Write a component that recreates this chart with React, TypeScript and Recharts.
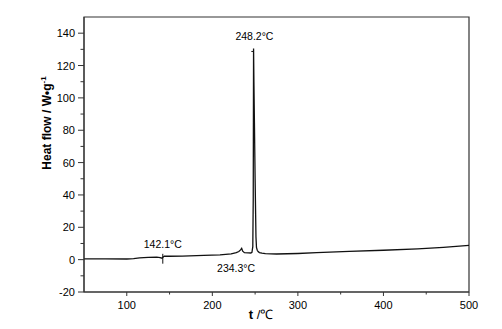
import React from 'react';
import { LineChart, Line, XAxis, YAxis, ReferenceLine, ReferenceDot, ReferenceArea } from 'recharts';

// Temperature (°C) and heat flow (W·g⁻¹)
const temperature = [
  50, 75, 100, 108, 115, 125, 135, 139, 141.2, 142.5, 144, 150, 165, 190, 209, 222, 228, 231, 233,
  234.3, 235.5, 237.5, 242, 245, 246.3, 247.3, 247.8, 248.2, 248.6, 249.2, 250.0, 250.6, 251.0,
  251.6, 252.5, 253.5, 255, 258, 262, 275, 300, 322, 360, 400, 440, 470, 500,
];
const heatFlow = [
  0.5, 0.5, 0.4, 0.6, 1.1, 1.4, 1.5, 1.3, 0.9, 1.6, 2.2, 2.1, 2.2, 2.6, 3.0, 3.6, 4.4, 5.0, 6.0,
  7.0, 5.2, 4.3, 4.2, 4.1, 4.5, 8, 37, 130.5, 110, 85, 50, 28, 14,
  7.5, 5.8, 5.0, 4.4, 4.0, 3.7, 3.5, 3.8, 4.3, 5.1, 5.8, 6.7, 7.6, 8.8,
];

const xMajorTicks = [100, 200, 300, 400, 500];
const xMinorTicks = [150, 250, 350, 450];
const yMajorTicks = [-20, 0, 20, 40, 60, 80, 100, 120, 140];
const yMinorTicks = [-10, 10, 30, 50, 70, 90, 110, 130];

const peakLabels = [
  { t: 142.1, v: 9.8, text: '142.1°C' },
  { t: 227.8, v: -5.3, text: '234.3°C' },
  { t: 249.2, v: 138.2, text: '248.2°C' },
];

const data = temperature.map((t, i) => ({ t, hf: heatFlow[i] }));

const FONT = '"Liberation Sans", Arial, sans-serif';

const XTick = (props: any) => {
  const { x, y, payload } = props;
  const major = xMajorTicks.includes(payload.value);
  return (
    <g>
      <line x1={x} y1={y} x2={x} y2={y + (major ? 4 : 2.5)} stroke="#333" strokeWidth={1} />
      {major && (
        <text x={x} y={y + 17} textAnchor="middle" fontSize={11} fill="#000" fontFamily={FONT}>
          {payload.value}
        </text>
      )}
    </g>
  );
};

const YTick = (props: any) => {
  const { x, y, payload } = props;
  const major = yMajorTicks.includes(payload.value);
  return (
    <g>
      <line x1={x} y1={y} x2={x - (major ? 6 : 3.5)} y2={y} stroke="#333" strokeWidth={1} />
      {major && (
        <text x={x - 9} y={y + 4} textAnchor="end" fontSize={11} fill="#000" fontFamily={FONT}>
          {payload.value}
        </text>
      )}
    </g>
  );
};

const YLabel = () => (
  <text
    transform="translate(50.5,123) rotate(-90)"
    textAnchor="middle"
    fontSize={12}
    fontWeight="bold"
    fill="#000"
    fontFamily={FONT}
  >
    Heat flow / W•g
    <tspan dy={-5} fontSize={8}>-1</tspan>
  </text>
);

const XLabel = () => (
  <text x={261} y={319} textAnchor="middle" fontSize={13} fill="#000" fontFamily={FONT}>
    <tspan fontWeight="bold">t</tspan> /℃
  </text>
);

export default function App() {
  return (
    <div style={{ position: 'absolute', left: 0, top: 0 }}>
      <LineChart
        width={502}
        height={329}
        data={data}
        margin={{ top: 17, right: 33, left: 0, bottom: 0 }}
        style={{ fontFamily: FONT, background: '#fff' }}
      >
        <XAxis
          type="number"
          dataKey="t"
          domain={[50, 500]}
          ticks={[...xMajorTicks, ...xMinorTicks].sort((a, b) => a - b)}
          tick={<XTick />}
          tickLine={false}
          tickSize={0}
          tickMargin={0}
          height={37}
          stroke="#333"
          allowDataOverflow
          interval={0}
          label={<XLabel />}
        />
        <YAxis
          type="number"
          domain={[-20, 150]}
          ticks={[...yMajorTicks, ...yMinorTicks].sort((a, b) => a - b)}
          tick={<YTick />}
          tickLine={false}
          tickSize={0}
          tickMargin={0}
          width={84}
          stroke="#333"
          allowDataOverflow
          interval={0}
          label={<YLabel />}
        />
        <ReferenceArea x1={50} x2={500} y1={-20} y2={150} fill="none" stroke="#333" strokeWidth={1.2} />
        <Line
          type="linear"
          dataKey="hf"
          stroke="#111"
          strokeWidth={1.3}
          dot={false}
          isAnimationActive={false}
        />
        <ReferenceLine
          segment={[{ x: 142.1, y: -2.5 }, { x: 142.1, y: 3.6 }]}
          stroke="#111"
          strokeWidth={1}
        />
        <ReferenceLine
          segment={[{ x: 245.6, y: 128.7 }, { x: 248.2, y: 128.7 }]}
          stroke="#111"
          strokeWidth={1}
        />
        {peakLabels.map((p) => (
          <ReferenceDot
            key={p.text}
            x={p.t}
            y={p.v}
            r={0}
            fill="none"
            stroke="none"
            label={{ value: p.text, position: 'center', fontSize: 10.5, fill: '#000' }}
          />
        ))}
      </LineChart>
    </div>
  );
}
